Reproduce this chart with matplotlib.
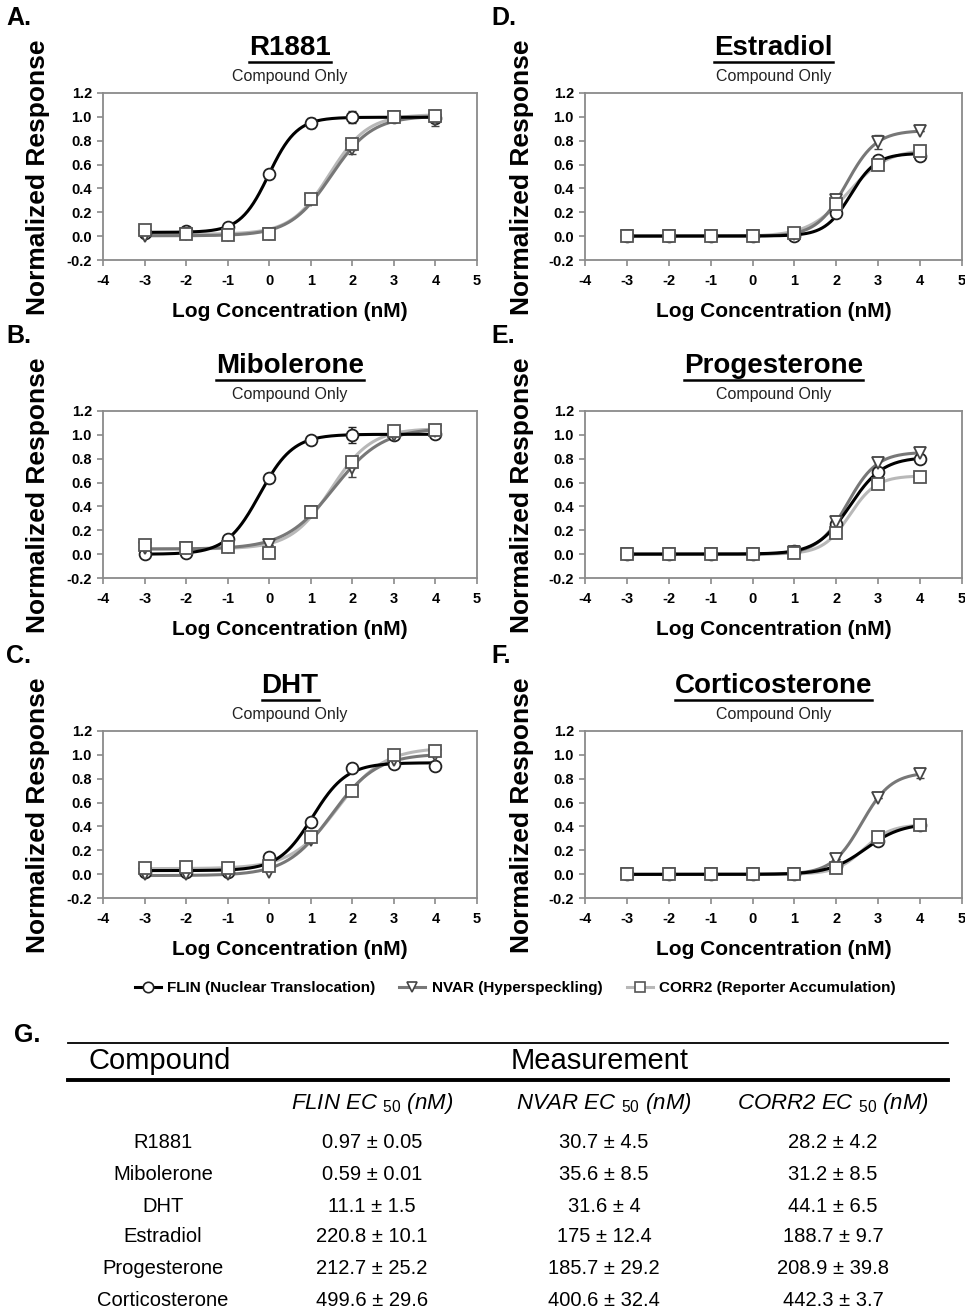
import numpy as np
import matplotlib
matplotlib.use('Agg')
import matplotlib.pyplot as plt
from matplotlib.lines import Line2D

plt.rcParams['font.family'] = ['Liberation Sans', 'DejaVu Sans']
plt.rcParams['mathtext.fontset'] = 'custom'
plt.rcParams['mathtext.rm'] = 'Liberation Sans'
plt.rcParams['mathtext.it'] = 'Liberation Sans:italic'
plt.rcParams['axes.unicode_minus'] = False

# ---- data ----
log_conc = [-3, -2, -1, 0, 1, 2, 3, 4]
compounds = ['R1881', 'Mibolerone', 'DHT', 'Estradiol', 'Progesterone', 'Corticosterone']
panel_letters = ['A.', 'B.', 'C.', 'D.', 'E.', 'F.']

flin_resp = {
    'R1881':          [0.03, 0.04, 0.08, 0.52, 0.95, 1.00, 1.00, 0.99],
    'Mibolerone':     [0.00, 0.01, 0.13, 0.64, 0.96, 1.00, 1.00, 1.01],
    'DHT':            [0.02, 0.02, 0.02, 0.14, 0.44, 0.89, 0.92, 0.91],
    'Estradiol':      [0.00, 0.00, 0.00, 0.00, 0.00, 0.19, 0.64, 0.67],
    'Progesterone':   [0.00, 0.00, 0.00, 0.00, 0.03, 0.25, 0.69, 0.80],
    'Corticosterone': [0.00, 0.00, 0.00, 0.00, 0.00, 0.07, 0.28, 0.41],
}
nvar_resp = {
    'R1881':          [0.00, 0.02, 0.01, 0.02, 0.30, 0.73, 1.00, 0.97],
    'Mibolerone':     [0.05, 0.05, 0.06, 0.08, 0.35, 0.72, 1.00, 1.03],
    'DHT':            [0.00, 0.00, 0.00, 0.02, 0.29, 0.70, 0.96, 1.00],
    'Estradiol':      [0.00, 0.00, 0.00, 0.00, 0.02, 0.30, 0.79, 0.88],
    'Progesterone':   [0.00, 0.00, 0.00, 0.00, 0.02, 0.27, 0.76, 0.85],
    'Corticosterone': [0.00, 0.00, 0.00, 0.00, 0.00, 0.13, 0.64, 0.84],
}
corr2_resp = {
    'R1881':          [0.05, 0.02, 0.01, 0.02, 0.31, 0.77, 1.00, 1.01],
    'Mibolerone':     [0.08, 0.05, 0.06, 0.01, 0.35, 0.77, 1.03, 1.04],
    'DHT':            [0.05, 0.06, 0.05, 0.07, 0.31, 0.70, 1.00, 1.03],
    'Estradiol':      [0.00, 0.00, 0.00, 0.00, 0.03, 0.27, 0.60, 0.71],
    'Progesterone':   [0.00, 0.00, 0.00, 0.00, 0.01, 0.18, 0.59, 0.65],
    'Corticosterone': [0.00, 0.00, 0.00, 0.00, 0.00, 0.05, 0.31, 0.41],
}
flin_err = {
    'R1881':      [0, 0, 0, 0, 0.04, 0.05, 0, 0],
    'Mibolerone': [0, 0, 0, 0, 0.02, 0.07, 0, 0],
}
nvar_err = {
    'R1881':          [0, 0, 0, 0, 0, 0.04, 0, 0.05],
    'Mibolerone':     [0, 0, 0, 0, 0, 0.07, 0, 0],
    'Estradiol':      [0, 0, 0, 0, 0, 0, 0.06, 0],
    'Corticosterone': [0, 0, 0, 0, 0, 0, 0, 0.03],
}
corr2_err = {
    'R1881':      [0, 0, 0, 0, 0.03, 0.05, 0, 0.05],
    'Mibolerone': [0, 0, 0, 0, 0, 0.05, 0, 0],
}

# EC50 table (nM)
flin_ec50 = [0.97, 0.59, 11.1, 220.8, 212.7, 499.6]
flin_sem = [0.05, 0.01, 1.5, 10.1, 25.2, 29.6]
nvar_ec50 = [30.7, 35.6, 31.6, 175, 185.7, 400.6]
nvar_sem = [4.5, 8.5, 4, 12.4, 29.2, 32.4]
corr2_ec50 = [28.2, 31.2, 44.1, 188.7, 208.9, 442.3]
corr2_sem = [4.2, 8.5, 6.5, 9.7, 39.8, 3.7]

assay_labels = ['FLIN (Nuclear Translocation)', 'NVAR (Hyperspeckling)',
                'CORR2 (Reporter Accumulation)']
table_heads = [r'FLIN EC $_{\mathit{50}}$ (nM)', r'NVAR EC $_{\mathit{50}}$ (nM)',
               r'CORR2 EC $_{\mathit{50}}$ (nM)']

# ---- styles ----
line_col = ['#000000', '#777777', '#b8b8b8']
edge_col = ['#222222', '#444444', '#555555']
markers = ['o', 'v', 's']

W, H = 965, 1311


def fit_curve(y, log_ec50):
    """4-parameter logistic with the table EC50; fit bottom/top/hill."""
    x = np.array(log_conc, float)
    y = np.array(y, float)
    best = None
    for hill in np.linspace(0.4, 2.5, 106):
        s = 1.0 / (1.0 + 10 ** ((log_ec50 - x) * hill))
        A = np.column_stack([1 - s, s])
        coef = np.linalg.lstsq(A, y, rcond=None)[0]
        sse = np.sum((A @ coef - y) ** 2)
        if best is None or sse < best[0]:
            best = (sse, hill, coef)
    _, hill, (bot, top) = best
    xs = np.linspace(-3, 4, 300)
    s = 1.0 / (1.0 + 10 ** ((log_ec50 - xs) * hill))
    return xs, bot * (1 - s) + top * s


fig = plt.figure(figsize=(W / 100, H / 100), dpi=100)
ov = fig.add_axes([0, 0, 1, 1])
ov.set_xlim(0, W)
ov.set_ylim(H, 0)
ov.axis('off')

col_left = [103, 585]
col_w = [374, 377]
row_top = [93, 411, 731]
ax_h = 167

titles = []
for i, comp in enumerate(compounds):
    c, r = i // 3, i % 3
    left, top = col_left[c], row_top[r]
    ax = fig.add_axes([left / W, 1 - (top + ax_h) / H, col_w[c] / W, ax_h / H])
    ax.set_xlim(-4, 5)
    ax.set_ylim(-0.2, 1.2)
    ax.set_xticks(range(-4, 6))
    ax.set_yticks(np.arange(-0.2, 1.21, 0.2))
    ax.set_yticklabels([f'{v:.1f}' for v in np.arange(-0.2, 1.21, 0.2)])
    for sp in ax.spines.values():
        sp.set_color('#8a8a8a')
        sp.set_linewidth(1.3)
    ax.tick_params(direction='out', length=4, width=1.2, color='#8a8a8a',
                   labelsize=10.5, pad=4)
    ax.tick_params(axis='x', pad=6)
    for lab in ax.get_xticklabels() + ax.get_yticklabels():
        lab.set_fontweight('bold')
    ax.set_xlabel('Log Concentration (nM)', fontsize=15, fontweight='bold', labelpad=10)

    ec50s = [flin_ec50[i], nvar_ec50[i], corr2_ec50[i]]
    resp = [flin_resp[comp], nvar_resp[comp], corr2_resp[comp]]
    errs = [flin_err.get(comp), nvar_err.get(comp), corr2_err.get(comp)]
    # fitted curves (black on top)
    for k in [2, 1, 0]:
        xs, ys = fit_curve(resp[k], np.log10(ec50s[k]))
        ax.plot(xs, ys, color=line_col[k], lw=2.2, zorder=2 + (2 - k) * 0.1)
    for k in [0, 1, 2]:
        if errs[k] is not None:
            ax.errorbar(log_conc, resp[k], yerr=errs[k], fmt='none',
                        ecolor=edge_col[k], elinewidth=1.2, capsize=3, zorder=3)
        ax.plot(log_conc, resp[k], ls='none', marker=markers[k], ms=8.5,
                mfc='white', mec=edge_col[k], mew=1.3, zorder=4 + k * 0.1)

    cx = left + col_w[c] / 2
    t = ov.text(cx, top - 45, comp, ha='center', va='center', fontsize=20,
                fontweight='bold')
    titles.append(t)
    ov.text(cx, top - 16, 'Compound Only', ha='center', va='center', fontsize=11.5,
            color='#222222')
    ov.text([38, 522][c], top + 84, 'Normalized Response', rotation=90,
            ha='center', va='center', fontsize=19, fontweight='bold')
    ov.text([6, 491][c], top - 75, panel_letters[i], ha='left', va='center',
            fontsize=18, fontweight='bold')

# underline the compound titles
fig.canvas.draw()
rend = fig.canvas.get_renderer()
for t in titles:
    bb = t.get_window_extent(renderer=rend)
    yb = H - bb.y0 + 1
    ov.add_line(Line2D([bb.x0, bb.x1], [yb, yb], color='black', lw=1.8))

# legend
handles = [Line2D([], [], color=line_col[k], lw=2.2, marker=markers[k], ms=7.5,
                  mfc='white', mec=edge_col[k], mew=1.2) for k in range(3)]
fig.legend(handles, assay_labels, loc='center', bbox_to_anchor=(515 / W, 1 - 988 / H),
           ncol=3, frameon=False, handlelength=1.7, columnspacing=1.6,
           handletextpad=0.4, prop=dict(weight='bold', size=11))

# ---- table G ----
ov.text(14, 1035, 'G.', ha='left', va='center', fontsize=18, fontweight='bold')
ov.add_line(Line2D([68, 948], [1043, 1043], color='black', lw=1.3))
ov.add_line(Line2D([68, 948], [1080, 1080], color='black', lw=2.8))
ov.text(88, 1061, 'Compound', ha='left', va='center', fontsize=21)
ov.text(600, 1061, 'Measurement', ha='center', va='center', fontsize=21)
col_x = [372, 604, 833]
for x, h in zip(col_x, table_heads):
    ov.text(x, 1104, h, ha='center', va='center', fontsize=16, style='italic')
row_y = [1142, 1174, 1206, 1237, 1269, 1300]
cols = [(flin_ec50, flin_sem), (nvar_ec50, nvar_sem), (corr2_ec50, corr2_sem)]
for j, comp in enumerate(compounds):
    ov.text(163, row_y[j], comp, ha='center', va='center', fontsize=14.5)
    for x, (vals, sems) in zip(col_x, cols):
        ov.text(x, row_y[j], f'{vals[j]:g} \u00b1 {sems[j]:g}', ha='center',
                va='center', fontsize=14.5)

fig.savefig('out.png', dpi=100)
